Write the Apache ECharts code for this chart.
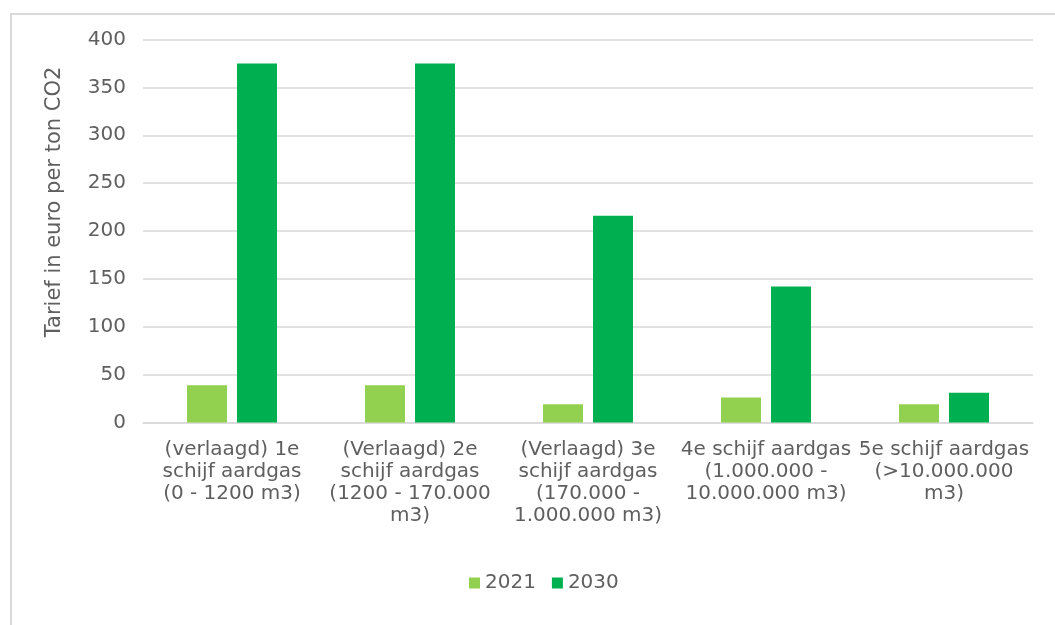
<!DOCTYPE html>
<html>
<head>
<meta charset="utf-8">
<script src="https://cdn.jsdelivr.net/npm/echarts@6/dist/echarts.min.js"></script>
<style>
  html, body { margin: 0; padding: 0; background: #ffffff; }
  #chart { width: 1055px; height: 625px; }
</style>
</head>
<body>
<div id="chart"></div>
<script>
// Energiebelasting / CO2-tarief per schijf aardgas
const categories = [
  '(verlaagd) 1e\nschijf aardgas\n(0 - 1200 m3)',
  '(Verlaagd) 2e\nschijf aardgas\n(1200 - 170.000\nm3)',
  '(Verlaagd) 3e\nschijf aardgas\n(170.000 -\n1.000.000 m3)',
  '4e schijf aardgas\n(1.000.000 -\n10.000.000 m3)',
  '5e schijf aardgas\n(>10.000.000\nm3)'
];
const values2021 = [39, 39, 19, 26, 19];
const values2030 = [375, 375, 216, 142, 31];
const seriesNames = ['2021', '2030'];
const yAxisTitle = 'Tarief in euro per ton CO2';

const FONT = '"DejaVu Sans", Verdana, sans-serif';
const TEXT = '#5f5f5f';
const GRID = '#d9d9d9';

const chart = echarts.init(document.getElementById('chart'), null, { renderer: 'canvas' });

chart.setOption({
  backgroundColor: '#ffffff',
  animation: false,
  textStyle: { fontFamily: FONT, color: TEXT },
  graphic: [
    {
      type: 'rect',
      shape: { x: 11, y: 14, width: 1100, height: 700 },
      style: { fill: 'none', stroke: GRID, lineWidth: 2 },
      silent: true
    },
    {
      type: 'text',
      x: 55,
      y: 202,
      rotation: Math.PI / 2,
      style: {
        text: yAxisTitle,
        fontFamily: FONT,
        fontSize: 21,
        fill: TEXT,
        align: 'center',
        verticalAlign: 'middle'
      },
      silent: true
    }
  ],
  grid: { left: 143, right: 22, top: 39.5, bottom: 202.5, containLabel: false },
  legend: {
    data: seriesNames,
    left: 464,
    top: 568,
    itemWidth: 11,
    itemHeight: 11,
    itemGap: 16,
    icon: 'rect',
    textStyle: { fontFamily: FONT, fontSize: 20, color: TEXT }
  },
  xAxis: {
    type: 'category',
    data: categories,
    axisLine: { lineStyle: { color: GRID, width: 1.5 } },
    axisTick: { show: false },
    axisLabel: {
      interval: 0,
      margin: 16,
      fontFamily: FONT,
      fontSize: 20,
      lineHeight: 22,
      color: TEXT,
      align: 'center',
      verticalAlign: 'top'
    }
  },
  yAxis: {
    type: 'value',
    min: 0,
    max: 400,
    interval: 50,
    axisLine: { show: false },
    axisTick: { show: false },
    splitLine: { lineStyle: { color: GRID, width: 1.5 } },
    axisLabel: { margin: 17, fontFamily: FONT, fontSize: 20, color: TEXT }
  },
  series: [
    {
      name: seriesNames[0],
      type: 'bar',
      data: values2021,
      barWidth: 40,
      barGap: '25%',
      itemStyle: { color: '#92d050' }
    },
    {
      name: seriesNames[1],
      type: 'bar',
      data: values2030,
      barWidth: 40,
      barGap: '25%',
      itemStyle: { color: '#00b050' }
    }
  ]
});
</script>
</body>
</html>
